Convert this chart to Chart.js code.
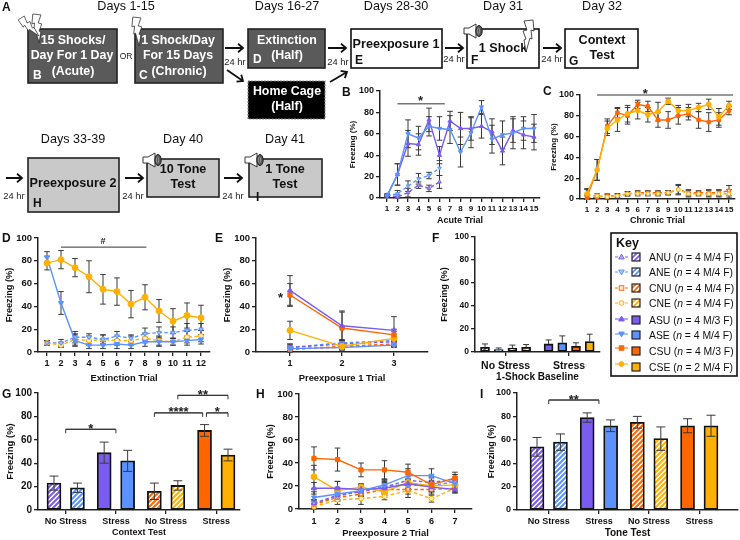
<!DOCTYPE html>
<html><head><meta charset="utf-8">
<style>
html,body{margin:0;padding:0;background:#fff;width:740px;height:540px;overflow:hidden}
#stage{position:relative;width:740px;height:540px;filter:blur(0.35px)}
#stage canvas{position:absolute}
#overlay{position:absolute;left:0;top:0}
#overlay text{font-family:"Liberation Sans",Arial,sans-serif}
</style>
<script src="https://cdn.jsdelivr.net/npm/chart.js@4/dist/chart.umd.min.js"></script>
</head><body><div id="stage"><svg id="overlay" width="740" height="540" xmlns="http://www.w3.org/2000/svg"></svg></div>
<script>
// ---------- categories ----------
const acuteTrials=[1,2,3,4,5,6,7,8,9,10,11,12,13,14,15];
const acuteShortTrials=[1,2,3,4,5,6];
const chronicTrials=[1,2,3,4,5,6,7,8,9,10,11,12,13,14,15];
const extinctionTrials=[1,2,3,4,5,6,7,8,9,10,11,12];
const pre1Trials=[1,2,3];
const pre2Trials=[1,2,3,4,5,6,7];
const barGroups=['ANU','ANE','ASU','ASE','CNU','CNE','CSU','CSE'];
const baselineGroups=['ANU','ANE','CNU','CNE','ASU','ASE','CSU','CSE'];
const stressLabels=['No Stress','Stress','No Stress','Stress'];
const baselineLabels=['No Stress','Stress'];
// ---------- panel B ----------
const bASU=[2,22,51,50,73,40,72,65,65,67,62,44,63,59,57];
const bASUerr=[1,10,12,10,11,8,9,15,11,11,12,13,11,13,12];
const bASE=[2,22,60,56,67,65,64,43,61,85,55,59,61,65,65];
const bASEerr=[1,10,13,11,9,11,13,14,14,6,13,13,15,11,13];
const bANU=[3,1,5,12,9,15];
const bANUerr=[1,2,4,3,3,6];
const bANE=[2,4,11,18,21,28];
const bANEerr=[1,3,5,5,3,7];
// ---------- panel C ----------
const cCSU=[2,28,70,83,80,91,89,76,76,80,82,76,74,76,85];
const cCSUerr=[2,10,7,5,8,4,5,7,8,8,6,8,9,7,4];
const cCSE=[5,28,68,76,82,85,81,84,94,85,85,88,91,79,90];
const cCSEerr=[5,10,7,11,8,8,7,9,3,5,6,4,5,8,4];
const cCNU=[1,2,3,3,5,6,6,6,6,9,6,6,6,6,8];
const cCNUerr=[2,1,2,2,2,2,2,2,2,5,3,2,3,3,5];
const cCNE=[4,3,2,3,5,5,5,5,6,9,5,5,5,5,5];
const cCNEerr=[5,2,2,2,2,2,2,2,2,4,3,2,3,3,4];
// ---------- panel D ----------
const dCSE=[78,81,74,66,55,53,42,48,36,27,32,30];
const dCSEerr=[6,8,8,14,13,12,12,11,10,11,11,11];
const dASE=[83,43,10,6,6,7,6,9,9,9,10,11];
const dASEerr=[5,10,5,3,3,4,3,4,4,3,4,4];
const dANE=[8,8,13,13,11,14,12,16,17,17,19,20];
const dANEerr=[2,3,5,3,4,4,3,5,5,5,6,5];
const dCNE=[8,6,11,10,11,10,10,12,10,9,13,14];
const dCNEerr=[2,2,5,4,4,4,4,4,4,3,5,5];
// ---------- panel E ----------
const eASU=[54,23,19], eASUerr=[13,13,12];
const eCSU=[50,21,15], eCSUerr=[10,14,5];
const eCSE=[19,5,12], eCSEerr=[8,4,3];
const eASE=[3,4,6], eASEerr=[3,2,2];
const eANU=[4,7,9], eANUerr=[3,3,3];
const eANE=[4,8,10], eANEerr=[3,3,3];
const eCNU=[2,5,7], eCNUerr=[2,2,2];
const eCNE=[3,4,7], eCNEerr=[2,2,2];
// ---------- panel F ----------
const fValues=[4,2,3.5,4,7,8,5,9];
const fErrors=[3,1.5,2.5,2.5,3.5,6,3,6.5];
// ---------- panel G ----------
const gValues=[23,19,49,42,16,21,68,47];
const gErrors=[6,4,9,9,7,4,5,5];
// ---------- panel H ----------
const hCSU=[44,43,34,34,32,21,27], hCSUerr=[10,10,6,8,7,6,5];
const hCSE=[28,16,19,15,23,20,21], hCSEerr=[10,8,3,5,5,4,3];
const hASU=[18,18,17,18,22,19,17], hASUerr=[5,6,4,5,4,4,3];
const hASE=[10,13,16,21,29,29,22], hASEerr=[5,6,5,5,6,6,4];
const hANU=[5,12,15,19,25,23,26], hANUerr=[3,4,4,5,5,5,4];
const hANE=[5,11,16,20,21,20,24], hANEerr=[3,4,4,5,5,5,4];
const hCNU=[4,10,13,17,17,17,18], hCNUerr=[3,3,4,4,4,4,4];
const hCNE=[2,8,9,11,16,9,18], hCNEerr=[2,4,5,3,6,3,3];
// ---------- panel I ----------
const iValues=[54,58,79,72,75,61,72,72];
const iErrors=[8,7,4,5,5,10,6,9];
// ---------- key ----------
const keyRows=[['ANU','4 M/4 F'],['ANE','4 M/4 F'],['CNU','4 M/4 F'],['CNE','4 M/4 F'],['ASU','4 M/3 F'],['ASE','4 M/4 F'],['CSU','4 M/3 F'],['CSE','2 M/4 F']];

const PURPLE='#7a5cf0',BLUE='#5b92ff',ORANGE='#ff6600',YELLOW='#ffb000';
const FONT='"Liberation Sans",Arial,sans-serif';
const styles={
 ANU:{c:PURPLE,dash:true,pt:'triangle',rot:0,r:2.6,fill:'#b6a8f6'},
 ANE:{c:BLUE,dash:true,pt:'triangle',rot:180,r:2.6,fill:'#a8c6ff'},
 CNU:{c:ORANGE,dash:true,pt:'rect',rot:0,r:2.6,fill:'#ffe0cc'},
 CNE:{c:YELLOW,dash:true,pt:'circle',rot:0,r:2.4,fill:'#fff1cc'},
 ASU:{c:PURPLE,dash:false,pt:'triangle',rot:0,r:3,fill:PURPLE},
 ASE:{c:BLUE,dash:false,pt:'triangle',rot:180,r:3,fill:BLUE},
 CSU:{c:ORANGE,dash:false,pt:'rect',rot:0,r:3,fill:ORANGE},
 CSE:{c:YELLOW,dash:false,pt:'circle',rot:0,r:3,fill:YELLOW}
};
function hatch(color){
  const s=5,c=document.createElement('canvas');c.width=s;c.height=s;
  const x=c.getContext('2d');x.fillStyle='#fff';x.fillRect(0,0,s,s);
  x.strokeStyle=color;x.lineWidth=2;
  for(const o of [-s,0,s]){x.beginPath();x.moveTo(o-1,s+1);x.lineTo(o+s+1,-1);x.stroke();}
  return x.createPattern(c,'repeat');
}
function barFill(g){const st=styles[g];return st.dash?hatch(st.c):st.c;}
function line(g,xs,ys,err,rScale){
  const st=styles[g],k=rScale||1;
  return {label:g,data:xs.map((x,i)=>({x,y:ys[i]})),err,borderColor:st.c,backgroundColor:st.fill,
    borderWidth:1.4,borderDash:st.dash?[3.5,2.5]:[],pointStyle:st.pt,pointRotation:st.rot,pointRadius:st.r*k,
    pointBorderColor:st.c,pointBorderWidth:1,pointBackgroundColor:st.fill,tension:0,clip:false};
}
const overlays={
 id:'overlays',
 _err(chart){
  const {x:xs,y:ys}=chart.scales,ctx=chart.ctx,o=chart.options.plugins.overlays;
  ctx.save();ctx.strokeStyle='#3a3a3a';ctx.lineWidth=1;
  chart.data.datasets.forEach(ds=>{
   (ds.err||[]).forEach((e,i)=>{
    const p=ds.data[i],x=xs.getPixelForValue(p.x),t=ys.getPixelForValue(p.y+e),b=ys.getPixelForValue(Math.max(0,p.y-e)),c=o.cap;
    ctx.beginPath();ctx.moveTo(x,o.upOnly?ys.getPixelForValue(p.y):b);ctx.lineTo(x,t);
    ctx.moveTo(x-c,t);ctx.lineTo(x+c,t);
    if(!o.upOnly){ctx.moveTo(x-c,b);ctx.lineTo(x+c,b);}
    ctx.stroke();
   });
  });
  ctx.restore();
 },
 beforeDatasetsDraw(chart){if(chart.options.plugins.overlays.lines)this._err(chart);},
 afterDatasetsDraw(chart){
  const o=chart.options.plugins.overlays;
  if(!o.lines)this._err(chart);
  const {x:xs,y:ys}=chart.scales,ctx=chart.ctx;
  ctx.save();ctx.strokeStyle='#333';ctx.fillStyle='#222';ctx.lineWidth=1;
  (chart.$marks||[]).forEach(m=>{
   const a=xs.getPixelForValue(m.from),b=xs.getPixelForValue(m.to),y=ys.getPixelForValue(m.y);
   if(m.span){ctx.beginPath();ctx.moveTo(a,y);ctx.lineTo(b,y);if(m.drop){ctx.moveTo(a,y+m.drop);ctx.lineTo(a,y);ctx.lineTo(b,y);ctx.lineTo(b,y+m.drop);}ctx.stroke();}
   if(m.text){ctx.font='bold '+(m.size||11)+'px '+FONT;ctx.textAlign='center';ctx.textBaseline='alphabetic';
    ctx.fillText(m.text,m.at!==undefined?xs.getPixelForValue(m.at):(a+b)/2,y+(m.dy===undefined?3.5:m.dy));}
  });
  ctx.restore();
 }
};
function makeChart(p){
 const left=p.titleX-6, padTop=16, padRight=12;
 const W=p.axisL-left, plotH=p.y0-p.y100, botH=p.titleY+6-p.y0;
 const c=document.createElement('canvas');
 const width=Math.round(p.axisR+padRight-left), height=Math.round(padTop+plotH+botH);
 c.width=width;c.height=height;c.style.left=left+'px';c.style.top=(p.y100-padTop)+'px';
 c.style.width=width+'px';c.style.height=height+'px';
 document.getElementById('stage').appendChild(c);
 const axisCol='#222';
 const ch=new Chart(c,{type:p.type,data:{datasets:p.datasets},plugins:[overlays],options:{
  responsive:false,animation:false,devicePixelRatio:1,
  layout:{padding:{top:padTop,right:padRight,left:0,bottom:0}},
  plugins:{legend:{display:false},tooltip:{enabled:false},overlays:{lines:p.type==='line',cap:p.cap||2.8,upOnly:!!p.upOnly}},
  scales:{
   x:{type:'linear',offset:false,min:p.xMin,max:p.xMax,
    afterFit:s=>{s.height=botH;},
    afterBuildTicks:s=>{s.ticks=p.tickValues.map(v=>({value:v}));},
    grid:{display:true,offset:false,drawOnChartArea:false,drawTicks:true,tickLength:4,color:axisCol,lineWidth:1.3},
    border:{display:true,color:axisCol,width:1.5},
    ticks:{autoSkip:false,maxRotation:0,minRotation:0,includeBounds:false,padding:p.xPad===undefined?2:p.xPad,color:'#111',font:{family:FONT,weight:'bold',size:p.xFont},
      callback:(v,i)=>p.tickLabels[i]},
    title:{display:true,text:p.xTitle,color:'#111',padding:0,font:{family:FONT,weight:'bold',size:p.tFont,lineHeight:12/p.tFont}}
   },
   y:{type:'linear',min:0,max:100,
    afterFit:s=>{s.width=W;},
    grid:{display:true,drawOnChartArea:false,drawTicks:true,tickLength:4,color:axisCol,lineWidth:1.3},
    border:{display:true,color:axisCol,width:1.5},
    ticks:{stepSize:20,padding:2,color:'#111',font:{family:FONT,weight:'bold',size:p.yFont}},
    title:{display:true,text:'Freezing (%)',color:'#111',padding:0,font:{family:FONT,weight:'bold',size:p.yTitleFont||9.2,lineHeight:12/(p.yTitleFont||9.2)}}
   }
  }
 }});
 ch.$marks=p.marks||[];
 ch.draw();
 return ch;
}
function lineRange(p1,pN,n,axisL,axisR){const s=(pN-p1)/(n-1);return {xMin:1-(p1-axisL)/s,xMax:n+(axisR-pN)/s};}
function linePanel(p,trials,datasets){
 const r=lineRange(p.p1,p.pN,trials.length,p.axisL,p.axisR);
 makeChart(Object.assign({type:'line',datasets,tickValues:trials,tickLabels:trials.map(String)},r,p));
}
function barPanel(p,names,values,errs,slot,ticks,labels){
 const xs=names.map((_,i)=>slot(i));
 const s=(p.pN-p.p1)/(xs[7]-xs[0]);
 const xMin=xs[0]-(p.p1-p.axisL)/s,xMax=xs[7]+(p.axisR-p.pN)/s;
 const ds={data:xs.map((x,i)=>({x,y:values[i]})),err:errs,backgroundColor:names.map(barFill),borderColor:'#111',borderWidth:1.8,barThickness:p.barW,borderSkipped:false};
 makeChart(Object.assign({type:'bar',datasets:[ds],xMin,xMax,tickValues:ticks(xs),tickLabels:labels},p));
}
const pairSlot=i=>i+0.14*Math.floor(i/2);
const pairTicks=xs=>[0,2,4,6].map(i=>(xs[i]+xs[i+1])/2);

const SMALL=0.8;
linePanel({titleX:353,axisL:380,axisR:540,p1:387,pN:534,y100:91,y0:198,titleY:221,yFont:9,xFont:8,tFont:9,yTitleFont:8,xTitle:'Acute Trial',
  marks:[{from:2,to:6.5,y:88,span:true,text:'*',at:4.2,size:13,dy:1}]},acuteTrials,
 [line('ASE',acuteTrials,bASE,bASEerr,SMALL),line('ASU',acuteTrials,bASU,bASUerr,SMALL),line('ANE',acuteShortTrials,bANE,bANEerr,SMALL),line('ANU',acuteShortTrials,bANU,bANUerr,SMALL)]);
linePanel({titleX:554,axisL:580,axisR:735,p1:587,pN:729,y100:95,y0:199,titleY:221,yFont:9,xFont:8,tFont:9,yTitleFont:8,xTitle:'Chronic Trial',
  marks:[{from:2,to:15.4,y:100,span:true,text:'*',at:6.75,size:13,dy:3}]},chronicTrials,
 [line('CSE',chronicTrials,cCSE,cCSEerr,SMALL),line('CSU',chronicTrials,cCSU,cCSUerr,SMALL),line('CNE',chronicTrials,cCNE,cCNEerr,SMALL),line('CNU',chronicTrials,cCNU,cCNUerr,SMALL)]);
linePanel({titleX:9,axisL:38,axisR:210,p1:47,pN:201,y100:238,y0:352,titleY:378,yFont:9.5,xFont:9,tFont:9.4,xPad:2.5,xTitle:'Extinction Trial',
  marks:[{from:2,to:8.1,y:92,span:true,text:'#',at:5,size:9,dy:-3}]},extinctionTrials,
 [line('CSE',extinctionTrials,dCSE,dCSEerr),line('ASE',extinctionTrials,dASE,dASEerr),line('ANE',extinctionTrials,dANE,dANEerr),line('CNE',extinctionTrials,dCNE,dCNEerr)]);
linePanel({titleX:227,axisL:256,axisR:428,p1:290,pN:394,y100:238,y0:352,titleY:378,yFont:9.5,xFont:9,tFont:9.4,xPad:2.5,xTitle:'Preexposure 1 Trial',
  marks:[{from:0.82,to:0.82,y:50,text:'*',size:13,dy:7}]},pre1Trials,
 [line('ASU',pre1Trials,eASU,eASUerr),line('CSU',pre1Trials,eCSU,eCSUerr),line('CSE',pre1Trials,eCSE,eCSEerr),line('ASE',pre1Trials,eASE,eASEerr),line('ANU',pre1Trials,eANU,eANUerr),line('ANE',pre1Trials,eANE,eANEerr),line('CNU',pre1Trials,eCNU,eCNUerr),line('CNE',pre1Trials,eCNE,eCNEerr)]);
linePanel({titleX:270,axisL:299,axisR:472,p1:314,pN:455,y100:394,y0:509,titleY:533,yFont:9.5,xFont:9,tFont:9.4,xPad:3,xTitle:'Preexposure 2 Trial'},pre2Trials,
 [line('CSU',pre2Trials,hCSU,hCSUerr),line('ASE',pre2Trials,hASE,hASEerr),line('ASU',pre2Trials,hASU,hASUerr),line('CSE',pre2Trials,hCSE,hCSEerr),line('ANU',pre2Trials,hANU,hANUerr),line('ANE',pre2Trials,hANE,hANEerr),line('CNU',pre2Trials,hCNU,hCNUerr),line('CNE',pre2Trials,hCNE,hCNEerr)]);

barPanel({titleX:444,axisL:475,axisR:600,p1:485,pN:589.7,y100:237,y0:352,titleY:377,yFont:8.5,xFont:10.5,tFont:10,xPad:4,barW:9,cap:3,upOnly:true,xTitle:'1-Shock Baseline'},
 baselineGroups,fValues,fErrors,i=>i+0.64*(i>=4?1:0),xs=>[(xs[0]+xs[3])/2,(xs[4]+xs[7])/2],baselineLabels);
const gSlots=barGroups.map((_,i)=>pairSlot(i));
barPanel({titleX:10,axisL:38,axisR:240,p1:54,pN:228,y100:393,y0:510,titleY:533,yFont:10,xFont:9,tFont:9,yTitleFont:9.5,xPad:2,barW:14,cap:4.5,xTitle:'Context Test',
  marks:[
   {from:(gSlots[0]+gSlots[1])/2,to:(gSlots[2]+gSlots[3])/2,y:69,span:true,drop:4,text:'*',size:13},
   {from:gSlots[4],to:gSlots[6]-0.08,y:83,span:true,drop:4,text:'****',size:13},
   {from:gSlots[6]+0.08,to:gSlots[7],y:83,span:true,drop:4,text:'*',size:13},
   {from:gSlots[5],to:gSlots[7],y:98,span:true,drop:4,text:'**',size:13}
  ]},barGroups,gValues,gErrors,pairSlot,pairTicks,stressLabels);
const iSlots=gSlots;
barPanel({titleX:492,axisL:517,axisR:738,p1:537,pN:711,y100:393,y0:510,titleY:533,yFont:9,xFont:9,tFont:10,yTitleFont:9,xPad:2,barW:14,cap:4.5,xTitle:'Tone Test',
  marks:[{from:(iSlots[0]+iSlots[1])/2,to:(iSlots[2]+iSlots[3])/2,y:94,span:true,drop:4,text:'**',size:13}]},barGroups,iValues,iErrors,pairSlot,pairTicks,stressLabels);

// ---------- schematic, panel letters and key (real SVG text) ----------
const NS='http://www.w3.org/2000/svg',svg=document.getElementById('overlay');
function el(n,a,parent){const e=document.createElementNS(NS,n);for(const k in a)e.setAttribute(k,a[k]);(parent||svg).appendChild(e);return e;}
function txt(x,y,s,o={}){const e=el('text',{x,y,'font-size':o.size||12,'font-weight':o.bold?'bold':'normal','text-anchor':o.anchor||'middle',fill:o.fill||'#111'});e.textContent=s;return e;}
function box(x,y,w,h,fill,stroke){return el('rect',{x,y,width:w,height:h,fill,stroke:stroke||'#222','stroke-width':1.6});}
function arrow(x1,y1,x2,y2){const a=Math.atan2(y2-y1,x2-x1),L=6.5,t=0.7;
 el('path',{d:`M${x1},${y1}L${x2},${y2}M${x2-L*Math.cos(a-t)},${y2-L*Math.sin(a-t)}L${x2},${y2}L${x2-L*Math.cos(a+t)},${y2-L*Math.sin(a+t)}`,fill:'none',stroke:'#111','stroke-width':1.8});}
function bolt(x,y,rot,sc,flip){el('polygon',{points:'2,0 11,1 8,10 12,11 9,19 11,20 9,32 5,18 3,19 4,10 1,11',fill:'#fff',stroke:'#222','stroke-width':0.8,transform:`translate(${x},${y}) rotate(${rot}) scale(${flip?-sc:sc},${sc})`});}
function speaker(x,y){el('polygon',{points:`${x},${y+4} ${x+5},${y+4} ${x+12},${y} ${x+12},${y+14} ${x+5},${y+10} ${x},${y+10}`,fill:'#fff',stroke:'#222','stroke-width':0.9});
 el('ellipse',{cx:x+15,cy:y+7,rx:3.2,ry:5.5,fill:'#555',stroke:'#222','stroke-width':1});el('ellipse',{cx:x+14.5,cy:y+7,rx:1.2,ry:3,fill:'none',stroke:'#bbb','stroke-width':0.6});}

const headerLabels=[['Days 1-15',126,10],['Days 16-27',287,10],['Days 28-30',396,10],['Day 31',503,10],['Day 32',602,10],['Days 33-39',73,143],['Day 40',183,143],['Day 41',285,143]];
headerLabels.forEach(h=>txt(h[1],h[2],h[0],{size:12.6}));
const DARK='#5a5a5a',GREY='#c9c9c9';
box(28,29,89,54,DARK);box(135,29,88,54,DARK);box(248,29,77,39,DARK);
el('rect',{x:248,y:81,width:77,height:38,fill:'#000',stroke:'#888','stroke-width':1.2,'stroke-dasharray':'2 1.2'});
box(351,29,91,39,'#fff','#111');box(467,29,72,39,'#fff','#111');box(565,29,73,39,'#fff','#111');
box(28,158,91,54,GREY);box(147,159,72,38,GREY);box(249,159,73,38,GREY);
const W1={size:12.4,bold:true,fill:'#fff'};
[['15 Shocks/',73,44],['Day For 1 Day',72,59],['(Acute)',73,75],['1 Shock/Day',178,44],['For 15 Days',178,59],['(Chronic)',179,75],['Extinction',287,44],['(Half)',287,59],['Home Cage',287,95],['(Half)',287,110]]
 .forEach(t=>txt(t[1],t[2],t[0],W1));
const K1={size:12.6,bold:true};
[['Preexposure 1',396,48],['1 Shock',503,52],['Context',602,44],['Test',602,59],['Preexposure 2',73,187],['10 Tone',183,173],['Test',183,188],['1 Tone',285,173],['Test',285,188]]
 .forEach(t=>txt(t[1],t[2],t[0],K1));
[['B',33,79,'#fff'],['C',139,79,'#fff'],['D',253,63,'#fff'],['E',355,64,'#111'],['F',471,64,'#111'],['G',569,65,'#111'],['H',33,207,'#111'],['I',256,201,'#111']]
 .forEach(t=>txt(t[1],t[2],t[0],{size:12,bold:true,anchor:'start',fill:t[3]}));
txt(126,59,'OR',{size:8.5,fill:'#222'});
[[235,65],[338,65],[454,62],[552,62],[14,199],[133,199],[233,199]].forEach(p=>txt(p[0],p[1],'24 hr',{size:9.4,fill:'#222'}));
arrow(225,48,243,48);arrow(227,70,243,81);arrow(328,48,346,48);arrow(330,82,347,72);arrow(445,48,463,48);arrow(543,48,561,48);arrow(6,178,22,178);arrow(125,178,143,178);arrow(224,178,242,178);
bolt(31,14,0,0.9);bolt(17,21,-40,0.8);bolt(131,17,0,0.9);bolt(535,20,0,1,true);
speaker(464,24);speaker(143,153);speaker(245,153);
[['A',2,11],['B',342,96],['C',543,95],['D',2,242],['E',215,242],['F',432,242],['G',2,398],['H',256,398],['I',480,398]]
 .forEach(t=>txt(t[1],t[2],t[0],{size:12,bold:true,anchor:'start'}));
el('rect',{x:611,y:233,width:126,height:143,fill:'#fff',stroke:'#111','stroke-width':1.6});
txt(616,247,'Key',{size:12.5,bold:true,anchor:'start'});
const defs=el('defs',{});
Object.keys(styles).forEach(g=>{const st=styles[g];if(!st.dash)return;
 const p=el('pattern',{id:'h'+g,width:5,height:5,patternUnits:'userSpaceOnUse'},defs);
 el('rect',{width:5,height:5,fill:'#fff'},p);
 el('path',{d:'M-1,6L6,-1M-1,1L1,-1M4,6L6,4',stroke:st.c,'stroke-width':1.8},p);});
const keyY=[257,272,288,303,320,335,351,367];
keyRows.forEach((r,i)=>{
 const g=r[0],st=styles[g],y=keyY[i],ly=y-(i>3?i-3>2?3:1:0),cx=621.5;
 el('line',{x1:615,y1:ly,x2:628,y2:ly,stroke:st.c,'stroke-width':1.1,'stroke-dasharray':st.dash?'3 2':'none'});
 const a={fill:st.fill,stroke:st.c,'stroke-width':0.9};
 if(st.pt==='rect')el('rect',Object.assign({x:cx-2.3,y:ly-2.3,width:4.6,height:4.6},a));
 else if(st.pt==='circle')el('circle',Object.assign({cx,cy:ly,r:2.4},a));
 else{const d=st.rot?-1:1;el('polygon',Object.assign({points:`${cx},${ly-3*d} ${cx-2.8},${ly+2*d} ${cx+2.8},${ly+2*d}`},a));}
 el('rect',{x:632,y:y-4,width:8,height:8,fill:st.dash?`url(#h${g})`:st.c,stroke:'#222','stroke-width':1.2});
 const t=txt(649,y+3.5,'',{size:10.4,anchor:'start'});
 const a1=el('tspan',{},t);a1.textContent=g+' (';
 const a2=el('tspan',{'font-style':'italic'},t);a2.textContent='n';
 const a3=el('tspan',{},t);a3.textContent=' = '+r[1]+')';
});
</script></body></html>
